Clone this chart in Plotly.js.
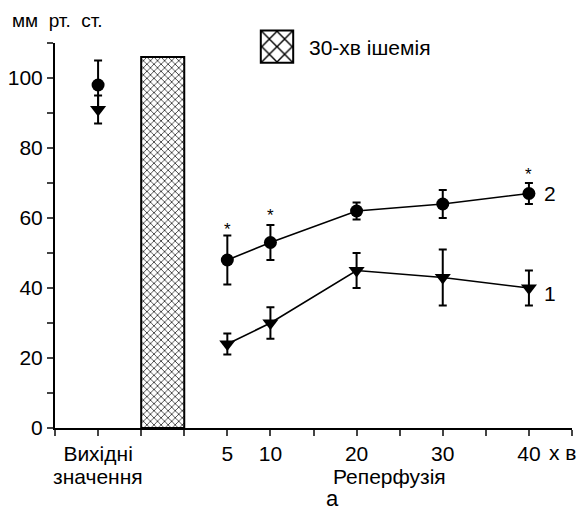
<!DOCTYPE html>
<html><head><meta charset="utf-8">
<script src="https://cdn.plot.ly/plotly-3.0.1.min.js"></script>
<style>body{margin:0;background:#fff}#chart{width:583px;height:510px}</style>
</head><body><div id="chart"></div>
<script>
// ---- data ----
const baselineX = [-10];
const s1Base = [91], s1BaseErr = [4];
const s2Base = [98], s2BaseErr = [7];
const reperfX = [5, 10, 20, 30, 40];
const s1Vals = [24, 30, 45, 43, 40];
const s1Err = [3, 4.5, 5, 8, 5];
const s2Vals = [48, 53, 62, 64, 67];
const s2Err = [7, 5, 2.4, 4, 3];
const ischemiaX = [-2.5], ischemiaWidth = [5], ischemiaH = [106];
const starX = [5, 10, 40], starY = [56.7, 60.6, 72.3];
const tickVals = [-15,-10,-5,0,5,10,15,20,25,30,35,40,45];
const tickText = ['','Вихідні','','','5','10','','20','','30','','40',''];

const F = 'Liberation Sans, Arial, sans-serif';
const W = 583, H = 510, ML = 55, MR = 11, MT = 43, MB = 82;
const PW = W - ML - MR, PH = H - MT - MB;
const px = (x) => (x - ML) / PW;        // pixel -> paper x
const py = (y) => (H - MB - y) / PH;    // pixel -> paper y

const err = (a) => ({type:'data', array:a, visible:true, color:'#000', thickness:2, width:4});
const triMarker = {symbol:'triangle-down', size:14, color:'#000'};
const cirMarker = {symbol:'circle', size:13, color:'#000'};

const traces = [
  {type:'bar', x:ischemiaX, y:ischemiaH, width:ischemiaWidth, name:'30-хв ішемія', showlegend:true,
   marker:{color:'#fff', line:{color:'#000', width:2}, pattern:{shape:'x', fgcolor:'#000', bgcolor:'#fff', size:5, solidity:0.25}}},
  {type:'scatter', mode:'markers', x:baselineX, y:s2Base, error_y:err(s2BaseErr), marker:cirMarker, showlegend:false},
  {type:'scatter', mode:'markers', x:baselineX, y:s1Base, error_y:err(s1BaseErr), marker:triMarker, showlegend:false},
  {type:'scatter', mode:'lines+markers', x:reperfX, y:s2Vals, error_y:err(s2Err), marker:cirMarker, line:{color:'#000', width:1.6}, showlegend:false},
  {type:'scatter', mode:'lines+markers', x:reperfX, y:s1Vals, error_y:err(s1Err), marker:triMarker, line:{color:'#000', width:1.6}, showlegend:false}
];

const ann = starX.map((x,i)=>({x:x, y:starY[i], xref:'x', yref:'y', xanchor:'center', yanchor:'middle', text:'*', showarrow:false, font:{family:F, size:17, color:'#000'}}));
ann.push({x:42.5, y:s2Vals[4], xref:'x', yref:'y', xanchor:'center', yanchor:'middle', text:'2', showarrow:false, font:{family:F, size:21, color:'#000'}});
ann.push({x:42.5, y:s1Vals[4]-1.5, xref:'x', yref:'y', xanchor:'center', yanchor:'middle', text:'1', showarrow:false, font:{family:F, size:21, color:'#000'}});
ann.push({x:px(10), y:py(21), xref:'paper', yref:'paper', xanchor:'left', yanchor:'middle', text:'мм  рт.  ст.', showarrow:false, font:{family:F, size:19, color:'#000'}});
ann.push({x:baselineX[0], y:py(476), xref:'x', yref:'paper', xanchor:'center', yanchor:'middle', borderpad:0, text:'значення', showarrow:false, font:{family:F, size:21, color:'#000'}});
ann.push({x:px(389), y:py(476), xref:'paper', yref:'paper', xanchor:'center', yanchor:'middle', borderpad:0, text:'Реперфузія', showarrow:false, font:{family:F, size:21, color:'#000'}});
ann.push({x:px(332), y:py(498), xref:'paper', yref:'paper', xanchor:'center', yanchor:'middle', borderpad:0, text:'а', showarrow:false, font:{family:F, size:22, color:'#000'}});
ann.push({x:px(547), y:py(452), xref:'paper', yref:'paper', xanchor:'left', yanchor:'middle', text:'х в', showarrow:false, font:{family:F, size:21, color:'#000'}});

const layout = {
  width:W, height:H,
  margin:{l:ML, r:MR, t:MT, b:MB},
  paper_bgcolor:'#fff', plot_bgcolor:'#fff',
  font:{family:F, size:21, color:'#000'},
  showlegend:true,
  legend:{x:px(245), y:py(47), xanchor:'left', yanchor:'middle', font:{family:F, size:21}, bgcolor:'rgba(0,0,0,0)', itemwidth:54},
  xaxis:{range:[-15,45], tickmode:'array', tickvals:tickVals, ticktext:tickText, ticks:'outside', ticklen:6, tickwidth:2,
         showline:true, linewidth:2, linecolor:'#000', showgrid:false, zeroline:false, tickfont:{family:F, size:21}},
  yaxis:{range:[0,110], tickmode:'array', tickvals:[0,10,20,30,40,50,60,70,80,90,100,110], ticktext:['0','','20','','40','','60','','80','','100',''],
         ticks:'outside', ticklen:6, tickwidth:2, showline:true, linewidth:2, linecolor:'#000', showgrid:false, zeroline:false, tickfont:{family:F, size:21}},
  annotations:ann,
  bargap:0
};

Plotly.newPlot('chart', traces, layout, {staticPlot:true}).then(()=>{
  document.querySelectorAll('#chart .legend .legendpoints path').forEach(p=>{
    const t = p.getAttribute('transform') || '';
    p.setAttribute('transform', t + ' scale(2.7)');
    p.style.vectorEffect = 'non-scaling-stroke';
    p.style.strokeWidth = '2px';
  });
  document.querySelectorAll('#chart .legend [clip-path]').forEach(e=>e.removeAttribute('clip-path'));
});
</script></body></html>
